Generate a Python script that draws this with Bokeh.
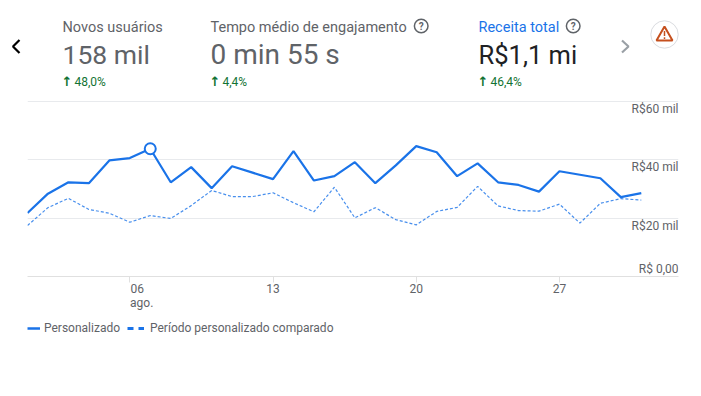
from bokeh.plotting import figure
from bokeh.layouts import column
from bokeh.models import Label, Range1d, FixedTicker, Legend, LegendItem, ColumnDataSource
from bokeh.core.properties import value
from bokeh.embed import file_html
from bokeh.resources import INLINE

days = list(range(1, 32))
personalizado = [21.8, 28.4, 32.3, 32.0, 39.8, 40.6, 43.8, 32.3, 37.5, 30.3, 37.8, 35.6, 33.4, 43.0, 32.9, 34.4,
                 39.2, 32.0, 38.1, 44.7, 42.6, 34.4, 38.8, 32.3, 31.4, 29.1, 36.1, 34.9, 33.7, 27.2, 28.6]
comparado = [17.5, 23.6, 26.8, 23.0, 21.7, 18.6, 20.9, 19.9, 24.3, 29.5, 27.4, 27.4, 28.7, 25.3, 22.2, 30.6,
             20.1, 23.6, 19.5, 17.7, 22.3, 23.7, 30.9, 24.2, 22.6, 22.4, 24.8, 18.3, 25.1, 26.7, 26.2]
y_ticks = [0, 20, 40, 60]
y_labels = ["R$ 0,00", "R$20 mil", "R$40 mil", "R$60 mil"]
x_ticks = [6, 13, 20, 27]
NB = "\u00a0"
x_labels = {6: NB * 8 + "06" + NB * 3 + "\n" + NB * 8 + "ago.", 13: "13", 20: "20", 27: "27"}
highlight_day = 7

W = 701
HEAD_H, CHART_H, FOOT_H = 95, 215, 86
BLUE = "#1a73e8"
GREY = "#5f6368"
GREEN = "#137333"


def bare(height):
    f = figure(width=W, height=height, output_backend="svg", toolbar_location=None,
               x_axis_location=None, y_axis_location=None, min_border=0,
               x_range=Range1d(0, W), y_range=Range1d(height, 0))
    f.outline_line_color = None
    f.grid.visible = False
    f.frame_align = False
    return f


head = bare(HEAD_H)
foot = bare(FOOT_H)

p = figure(width=W, height=CHART_H, output_backend="svg", toolbar_location=None,
           frame_width=651, frame_height=181, min_border_left=27, min_border_right=23,
           min_border_top=0, min_border_bottom=34,
           x_range=Range1d(1, 1 + 651 / 20.46), y_range=Range1d(0, 181 * 20 / 58.33))
p.frame_align = False
p.outline_line_color = None
p.yaxis.visible = False
p.ygrid.ticker = FixedTicker(ticks=y_ticks)
p.ygrid.grid_line_color = "#e8eaed"
p.xgrid.visible = False

ax = p.xaxis[0]
ax.ticker = FixedTicker(ticks=x_ticks)
ax.major_label_overrides = x_labels
ax.axis_line_color = "#e0e0e0"
ax.major_tick_line_color = "#e0e0e0"
ax.major_tick_out = 6
ax.major_tick_in = 0
ax.minor_tick_line_color = None
ax.major_label_standoff = -1
ax.major_label_text_font = "Roboto"
ax.major_label_text_font_size = "12px"
ax.major_label_text_line_height = 1.0
ax.major_label_text_color = GREY

p.line(days, comparado, line_color=BLUE, line_width=1.2, line_dash="3 2", line_alpha=0.8)
p.line(days, personalizado, line_color=BLUE, line_width=2.2)
i = days.index(highlight_day)
p.scatter([days[i]], [personalizado[i]], size=11, fill_color="white", line_color=BLUE, line_width=2)

src = ColumnDataSource(dict(x=[1 + 651 / 20.46] * 4, y=y_ticks, t=y_labels, off=[-8, 8, 7.5, 7]))
p.text("x", "y", text="t", source=src, text_align="right", text_baseline="middle", y_offset="off",
       text_font=value("Roboto"), text_font_size="12px", text_color=GREY)


def label(x, y, text, size, color, font="Roboto", align="left", style="normal"):
    head.add_layout(Label(x=x, y=y, text=text, text_font=font,
                          text_font_size=f"{size}px", text_color=color, text_align=align,
                          text_baseline="middle", text_font_style=style))


def arrow(x, y):
    label(x, y, "↑", 13, GREEN, font="DejaVu Sans", align="center", style="bold")


label(62, 27, "Novos usuários", 14.5, GREY)
label(62, 54, "158 mil", 26.5, GREY)
arrow(66.5, 81)
label(74, 81.5, "48,0%", 12, GREEN)

label(210, 27, "Tempo médio de engajamento", 14.5, GREY)
label(210, 54, "0 min 55 s", 28, GREY)
arrow(214.5, 81)
label(222, 81.5, "4,4%", 12, GREEN)

label(478, 27, "Receita total", 14.5, BLUE)
label(478, 54, "R$1,1 mi", 25.5, "#202124")
arrow(482.5, 81)
label(490, 81.5, "46,4%", 12, GREEN)

for cx in (420.7, 572.7):
    head.scatter([cx], [25.5], size=13.6, fill_color="white", line_color=GREY, line_width=1.5)
    label(cx, 25.8, "?", 10, GREY, align="center", style="bold")

head.line([19, 12.5, 19], [39.5, 46, 52.5], line_color="#000000", line_width=2.2)
head.line([621.5, 628, 621.5], [40, 46, 52], line_color="#9aa0a6", line_width=2.2)

head.scatter([664], [34], size=27.4, fill_color="white", line_color="#dadce0", line_width=1)
head.patch([664, 656, 672], [26, 40, 40], fill_color="white", line_color="#c5501e", line_width=2)
head.line([664, 664], [30.5, 35.5], line_color="#c5501e", line_width=1.5)
head.line([664, 664], [36.8, 38.5], line_color="#c5501e", line_width=1.5)

r1 = foot.line([-30, -20], [-10, -10], line_color=BLUE, line_width=2.5)
r2 = foot.line([-30, -20], [-10, -10], line_color=BLUE, line_width=3, line_dash="6 5")
for rnd, name, x0, gw, st in ((r1, "Personalizado", 27, 13, 4), (r2, "Período personalizado comparado", 127, 17, 6)):
    leg = Legend(items=[LegendItem(label=name, renderers=[rnd])], location=(x0, 63),
                 padding=0, margin=0, spacing=0, glyph_width=gw, glyph_height=14, label_height=14,
                 label_standoff=st, border_line_color=None, background_fill_alpha=0,
                 label_text_font="Roboto", label_text_font_size="12px", label_text_color=GREY)
    foot.add_layout(leg)

page = column(head, p, foot, spacing=0)
open("out.html", "w").write(file_html(page, INLINE))
